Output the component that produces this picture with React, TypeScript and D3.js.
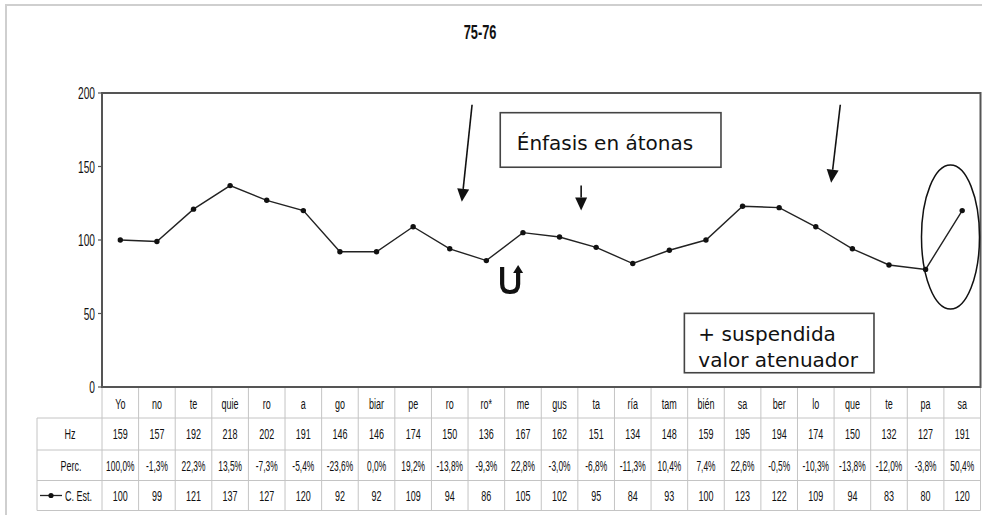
import * as d3 from 'd3'

// sílabas (eje de categorías)
const categories = ['Yo', 'no', 'te', 'quie', 'ro', 'a', 'go', 'biar', 'pe', 'ro', 'ro*', 'me', 'gus', 'ta', 'ría', 'tam', 'bién', 'sa', 'ber', 'lo', 'que', 'te', 'pa', 'sa']
const hzValues = [159, 157, 192, 218, 202, 191, 146, 146, 174, 150, 136, 167, 162, 151, 134, 148, 159, 195, 194, 174, 150, 132, 127, 191]
const percLabels = ['100,0%', '-1,3%', '22,3%', '13,5%', '-7,3%', '-5,4%', '-23,6%', '0,0%', '19,2%', '-13,8%', '-9,3%', '22,8%', '-3,0%', '-6,8%', '-11,3%', '10,4%', '7,4%', '22,6%', '-0,5%', '-10,3%', '-13,8%', '-12,0%', '-3,8%', '50,4%']
const estValues = [100, 99, 121, 137, 127, 120, 92, 92, 109, 94, 86, 105, 102, 95, 84, 93, 100, 123, 122, 109, 94, 83, 80, 120]
const yTicks = [0, 50, 100, 150, 200]
const title = '75-76'

// anotaciones en coordenadas de datos (índice de sílaba, valor)
const arrows = [
  { from: [9.61, 192], to: [9.33, 126] },
  { from: [12.59, 137], to: [12.59, 120] },
  { from: [19.67, 192], to: [19.42, 139] },
]

const W = 987
const H = 515
const plot = { left: 102, right: 980.5, top: 93, bottom: 387 }
const rows = { cat: 387, hz: 418, perc: 450, est: 480.5, end: 510.5 }
const headLeft = 37
const FONT = 'Liberation Sans, Arial, sans-serif'
const grid = '#c4c4c4'

function NarrowText({ x, y, size, sx = 0.62, anchor = 'middle', weight = 'normal', children }: any) {
  return (
    <text
      transform={`translate(${x},${y}) scale(${sx},1)`}
      textAnchor={anchor}
      dy="0.36em"
      fontFamily={FONT}
      fontSize={size}
      fontWeight={weight}
      fill="#111"
    >
      {children}
    </text>
  )
}

function Arrow({ x1, y1, x2, y2 }: any) {
  const len = 13
  const half = 6
  const dx = x2 - x1
  const dy = y2 - y1
  const d = Math.hypot(dx, dy)
  const ux = dx / d
  const uy = dy / d
  const bx = x2 - ux * len
  const by = y2 - uy * len
  const pts = [
    [x2, y2],
    [bx - uy * half, by + ux * half],
    [bx + uy * half, by - ux * half],
  ]
  return (
    <g>
      <line x1={x1} y1={y1} x2={bx} y2={by} stroke="#111" strokeWidth={1.6} />
      <polygon points={pts.map(p => p.join(',')).join(' ')} fill="#111" />
    </g>
  )
}

export default function App() {
  const idx = categories.map((_, i) => String(i))
  const x = d3.scaleBand().domain(idx).range([plot.left, plot.right]).padding(0)
  const bw = x.bandwidth()
  const cx = (i: number) => plot.left + (i + 0.5) * bw
  const y = d3.scaleLinear().domain([0, 200]).range([plot.bottom, plot.top])

  const line = d3
    .line<number>()
    .x((_, i) => (x(String(i)) || 0) + bw / 2)
    .y(d => y(d))

  const boundaries = d3.range(categories.length + 1).map(i => plot.left + i * bw)

  const headY = (a: number, b: number) => (a + b) / 2

  return (
    <svg width={W} height={H} style={{ position: 'absolute', left: 0, top: 0, background: '#fff' }}>
      <rect width={W} height={H} fill="#fff" />
      {/* marco exterior */}
      <path d={`M6,${H} V5 H982`} fill="none" stroke="#cfcfcf" strokeWidth={2} />

      <NarrowText x={480} y={32} size={20} sx={0.64} weight="bold">{title}</NarrowText>

      {/* eje Y */}
      {yTicks.map(t => (
        <g key={t}>
          <line x1={plot.left - 4} x2={plot.left} y1={y(t)} y2={y(t)} stroke="#555" strokeWidth={1.2} />
          <NarrowText x={95} y={y(t)} size={17} sx={0.6} anchor="end">{t}</NarrowText>
        </g>
      ))}

      {/* tabla de datos */}
      <g stroke={grid} strokeWidth={1}>
        {boundaries.map((bx, i) => (
          <line key={i} x1={bx} x2={bx} y1={rows.cat} y2={rows.end} />
        ))}
        <line x1={headLeft} x2={headLeft} y1={rows.hz} y2={rows.end} />
        {[rows.hz, rows.perc, rows.est, rows.end].map(ry => (
          <line key={ry} x1={headLeft} x2={plot.right} y1={ry} y2={ry} />
        ))}
      </g>
      {categories.map((c, i) => (
        <g key={i}>
          <NarrowText x={cx(i)} y={headY(rows.cat, rows.hz) + 1} size={15} sx={0.6}>{c}</NarrowText>
          <NarrowText x={cx(i)} y={headY(rows.hz, rows.perc)} size={15} sx={0.6}>{hzValues[i]}</NarrowText>
          <NarrowText x={cx(i)} y={headY(rows.perc, rows.est)} size={15} sx={0.56}>{percLabels[i]}</NarrowText>
          <NarrowText x={cx(i)} y={headY(rows.est, rows.end)} size={15} sx={0.6}>{estValues[i]}</NarrowText>
        </g>
      ))}
      <NarrowText x={70} y={headY(rows.hz, rows.perc)} size={15} sx={0.6}>Hz</NarrowText>
      <NarrowText x={71} y={headY(rows.perc, rows.est)} size={15} sx={0.6}>Perc.</NarrowText>
      <line x1={40} x2={62} y1={headY(rows.est, rows.end)} y2={headY(rows.est, rows.end)} stroke="#222" strokeWidth={1.3} />
      <circle cx={51} cy={headY(rows.est, rows.end)} r={2.6} fill="#111" />
      <NarrowText x={65} y={headY(rows.est, rows.end)} size={15} sx={0.6} anchor="start">C. Est.</NarrowText>

      {/* área del gráfico */}
      <rect
        x={plot.left}
        y={plot.top}
        width={plot.right - plot.left}
        height={plot.bottom - plot.top}
        fill="none"
        stroke="#555"
        strokeWidth={2}
      />

      {/* serie C. Est. */}
      <path d={line(estValues) || ''} fill="none" stroke="#222" strokeWidth={1.4} />
      {estValues.map((v, i) => (
        <circle key={i} cx={(x(String(i)) || 0) + bw / 2} cy={y(v)} r={2.7} fill="#111" />
      ))}

      {/* anotaciones */}
      {arrows.map((a, i) => (
        <Arrow key={i} x1={cx(a.from[0])} y1={y(a.from[1])} x2={cx(a.to[0])} y2={y(a.to[1])} />
      ))}

      <rect x={cx(10.38)} y={y(186.6)} width={cx(16.41) - cx(10.38)} height={y(149.5) - y(186.6)} fill="#fff" stroke="#444" strokeWidth={1.6} />
      <text x={cx(10.38) + 16.5} y={y(186.6) + 37} fontFamily="DejaVu Sans, Verdana, sans-serif" fontSize={20} fill="#111">
        Énfasis en átonas
      </text>

      <rect x={cx(15.41)} y={y(50.1)} width={cx(20.59) - cx(15.41)} height={y(9.7) - y(50.1)} fill="#fff" stroke="#444" strokeWidth={1.6} />
      <text fontFamily="DejaVu Sans, Verdana, sans-serif" fontSize={20} fill="#111">
        <tspan x={cx(15.41) + 14} y={y(50.1) + 27.5}>+ suspendida</tspan>
        <tspan x={cx(15.41) + 14} y={y(50.1) + 54}>valor atenuador</tspan>
      </text>

      <ellipse cx={cx(22.68)} cy={y(102)} rx={29} ry={72} fill="none" stroke="#111" strokeWidth={1.5} />

      {/* símbolo de giro */}
      <g transform={`translate(${cx(10.65)},${y(72.8)})`}>
        <path d="M-8,-13 V4 Q-8,12 0,12 Q8,12 8,4 V-8" fill="none" stroke="#111" strokeWidth={4.2} />
        <path d="M3,-7 L8,-15 L13,-7 z" fill="#111" />
      </g>
    </svg>
  )
}
